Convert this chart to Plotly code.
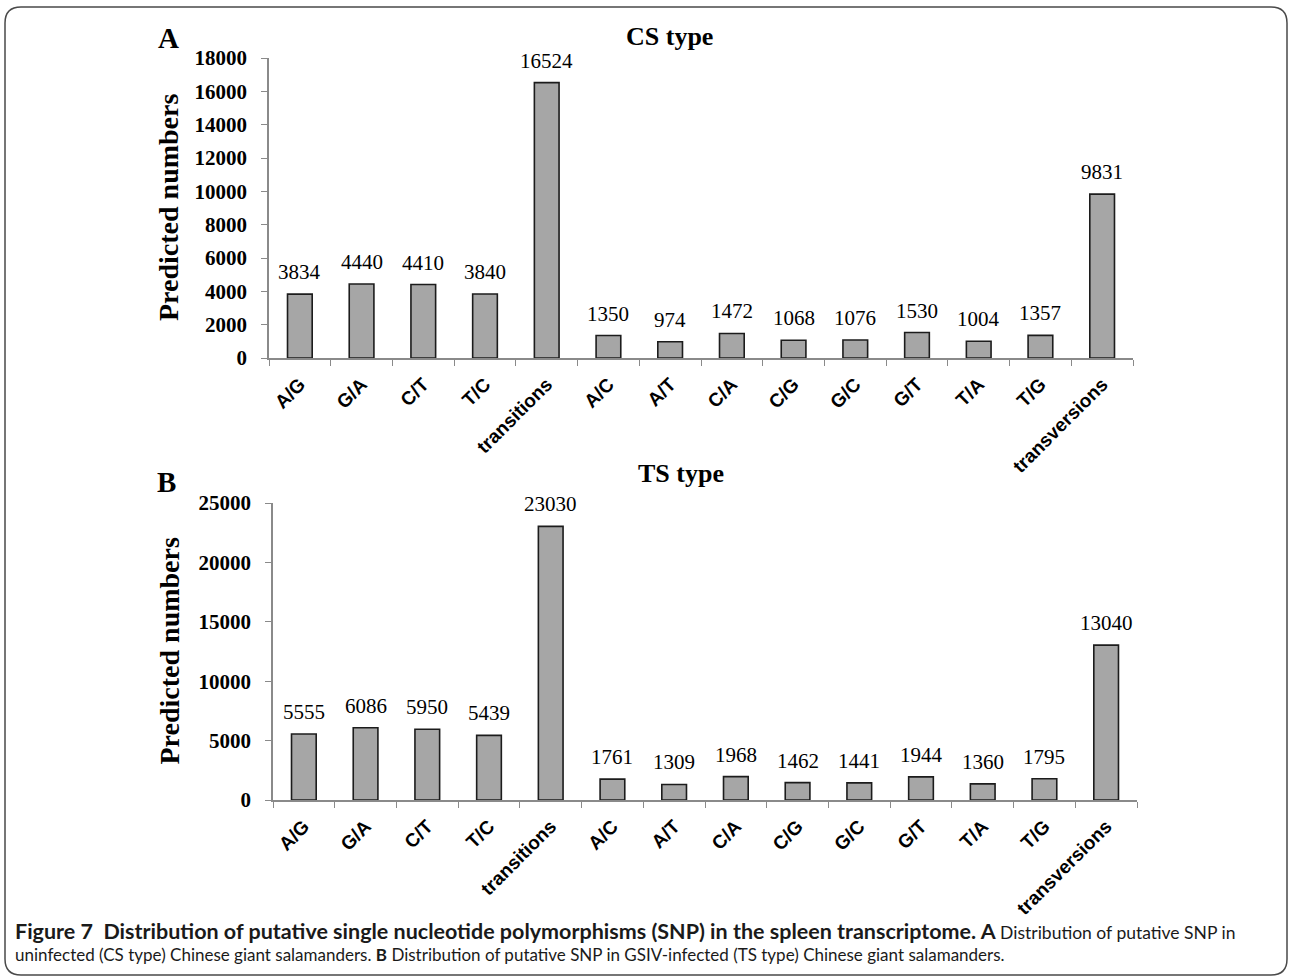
import plotly.graph_objects as go

W, H = 1290, 979

categories = ["A/G", "G/A", "C/T", "T/C", "transitions",
              "A/C", "A/T", "C/A", "C/G", "G/C", "G/T", "T/A", "T/G", "transversions"]
cs_values = [3834, 4440, 4410, 3840, 16524, 1350, 974, 1472, 1068, 1076, 1530, 1004, 1357, 9831]
ts_values = [5555, 6086, 5950, 5439, 23030, 1761, 1309, 1968, 1462, 1441, 1944, 1360, 1795, 13040]

cs_ticks = [0, 2000, 4000, 6000, 8000, 10000, 12000, 14000, 16000, 18000]
ts_ticks = [0, 5000, 10000, 15000, 20000, 25000]


def px(x):
    return x / W


def py(y):
    return 1 - y / H


SERIF = "Liberation Serif"
SANS = "Liberation Sans"
AXIS_GRAY = "#8a8a8a"

fig = go.Figure()

panels = [
    dict(vals=cs_values, ticks=cs_ticks, xa="x", ya="y",
         xdom=[px(269), px(1133)], ydom=[py(358), py(58)],
         title="CS type", tpos=(669, 37), letter="A", lpos=(168, 38)),
    dict(vals=ts_values, ticks=ts_ticks, xa="x2", ya="y2",
         xdom=[px(273), px(1137)], ydom=[py(800), py(503)],
         title="TS type", tpos=(681, 473), letter="B", lpos=(166, 482)),
]

annotations = []
for i, p in enumerate(panels):
    fig.add_trace(go.Bar(
        x=categories, y=p["vals"], xaxis=p["xa"], yaxis=p["ya"],
        width=0.4, marker=dict(color="#a6a6a6", line=dict(color="#1c1c1c", width=1.6)),
        showlegend=False, hoverinfo="x+y",
    ))
    sfx = "" if i == 0 else "2"
    fig.update_layout(**{
        "xaxis" + sfx: dict(
            domain=p["xdom"], anchor=p["ya"], type="category", automargin=False,
            range=[-0.5, len(categories) - 0.5],
            showline=True, linecolor=AXIS_GRAY, linewidth=1.5,
            ticks="outside", tickson="boundaries", ticklen=6, tickcolor=AXIS_GRAY, tickwidth=1.2,
            tickangle=-45, ticklabelstandoff=6,
            tickfont=dict(family=SANS, size=19, color="black", weight="bold"),
            showgrid=False, zeroline=False,
        ),
        "yaxis" + sfx: dict(
            domain=p["ydom"], anchor=p["xa"], automargin=False,
            range=[0, p["ticks"][-1]], tickvals=p["ticks"], ticktext=[str(t) for t in p["ticks"]],
            showline=True, linecolor=AXIS_GRAY, linewidth=1.5,
            ticks="outside", ticklen=6, tickcolor=AXIS_GRAY, tickwidth=1.2,
            ticklabelstandoff=10,
            tickfont=dict(family=SERIF, size=21, color="black", weight="bold"),
            showgrid=False, zeroline=False,
        ),
    })
    # value labels above each bar
    for c, v in zip(categories, p["vals"]):
        annotations.append(dict(
            x=c, y=v, xref=p["xa"], yref=p["ya"], text=str(v), showarrow=False,
            yanchor="bottom", yshift=8,
            font=dict(family=SERIF, size=21, color="black"),
        ))
    # panel title, panel letter and y-axis title
    annotations.append(dict(
        x=px(p["tpos"][0]), y=py(p["tpos"][1]), xref="paper", yref="paper",
        text="<b>%s</b>" % p["title"], showarrow=False, xanchor="center", yanchor="middle",
        font=dict(family=SERIF, size=26, color="black"),
    ))
    annotations.append(dict(
        x=px(p["lpos"][0]), y=py(p["lpos"][1]), xref="paper", yref="paper",
        text="<b>%s</b>" % p["letter"], showarrow=False, xanchor="center", yanchor="middle",
        font=dict(family=SERIF, size=29, color="black"),
    ))
    annotations.append(dict(
        x=px(169), y=(p["ydom"][0] + p["ydom"][1]) / 2, xref="paper", yref="paper",
        text="<b>Predicted numbers</b>", showarrow=False, textangle=-90,
        xanchor="center", yanchor="middle",
        font=dict(family=SERIF, size=28, color="black"),
    ))

# figure caption (two lines)
CAP = "Lato"
caption = (
    '<b><span style="font-size:21.5px">Figure 7  Distribution of putative single nucleotide '
    'polymorphisms (SNP) in the spleen transcriptome. A</span></b>'
    '<span style="font-size:17.5px"> Distribution of putative SNP in</span>'
    '<br>uninfected (CS type) Chinese giant salamanders. <b>B</b> Distribution of putative SNP in '
    'GSIV-infected (TS type) Chinese giant salamanders.'
)
annotations.append(dict(
    x=px(13), y=py(941), xref="paper", yref="paper", xanchor="left", yanchor="middle",
    showarrow=False, align="left", text=caption,
    font=dict(family=CAP, size=17, color="#1a1a1a"),
))

# rounded frame around the figure
x0, x1, y0, y1, r = 5, 1287, 7, 975, 16
path = (f"M {px(x0 + r)},{py(y0)} L {px(x1 - r)},{py(y0)} "
        f"Q {px(x1)},{py(y0)} {px(x1)},{py(y0 + r)} L {px(x1)},{py(y1 - r)} "
        f"Q {px(x1)},{py(y1)} {px(x1 - r)},{py(y1)} L {px(x0 + r)},{py(y1)} "
        f"Q {px(x0)},{py(y1)} {px(x0)},{py(y1 - r)} L {px(x0)},{py(y0 + r)} "
        f"Q {px(x0)},{py(y0)} {px(x0 + r)},{py(y0)} Z")

fig.update_layout(
    width=W, height=H,
    margin=dict(l=0, r=0, t=0, b=0, autoexpand=False),
    paper_bgcolor="white", plot_bgcolor="white",
    annotations=annotations,
    shapes=[dict(type="path", path=path, xref="paper", yref="paper",
                 line=dict(color="#4a4a4a", width=1.5))],
    bargap=0.6,
)

fig.write_html("out.html")
